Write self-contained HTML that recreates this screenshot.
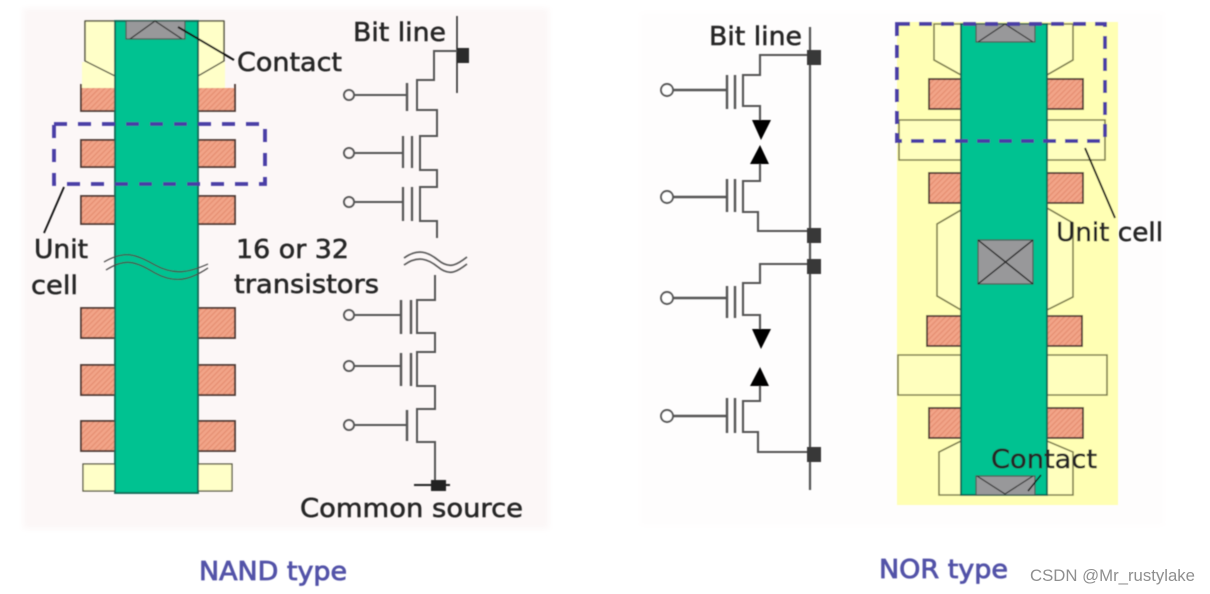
<!DOCTYPE html>
<html><head><meta charset="utf-8">
<style>
html,body{margin:0;padding:0;background:#fff;width:1210px;height:594px;overflow:hidden}
svg{display:block}
text{font-family:"DejaVu Sans","Liberation Sans",sans-serif;fill:#262626;stroke:#262626;stroke-width:.55}
</style></head>
<body>
<svg width="1210" height="594" viewBox="0 0 1210 594" xmlns="http://www.w3.org/2000/svg">
<defs>
<pattern id="h" width="4" height="4" patternUnits="userSpaceOnUse" patternTransform="rotate(-45)">
<rect width="4" height="4" fill="#f2a488"/><rect width="4" height="1.3" fill="#e58f72"/>
</pattern>
<filter id="b" x="-5%" y="-5%" width="110%" height="110%"><feGaussianBlur stdDeviation="0.6"/></filter>
<filter id="p" x="-5%" y="-5%" width="110%" height="110%"><feGaussianBlur stdDeviation="3"/></filter>
</defs>
<rect width="1210" height="594" fill="#fff"/>
<rect x="23" y="8" width="526" height="521" fill="#fcf7f7" filter="url(#p)"/>
<rect x="640" y="12" width="524" height="514" fill="#fefdfd" filter="url(#p)"/>
<g filter="url(#b)">
<!-- NAND layout -->
<g stroke="#55553f" stroke-width="1.3" fill="#ffffc8">
<path d="M85 21H115V76L85 61Z"/>
<path d="M224 21H198V76L224 61Z"/>
<rect x="83" y="464" width="34" height="27"/>
<rect x="196" y="464" width="36" height="27"/>
</g>
<rect x="82" y="62" width="33" height="26" fill="#ffffc8"/>
<rect x="198" y="62" width="27" height="26" fill="#ffffc8"/>
<path d="M85 21V61L115 76M224 21V61L198 76M85 21H224" fill="none" stroke="#55553f" stroke-width="1.3"/>
<g stroke="#4b3833" stroke-width="1.8" fill="url(#h)">
<path d="M81 88H115V111H81Z" stroke="none"/><path d="M198 88H235V111H198Z" stroke="none"/>
<path d="M81 84V111H115M235 84V111H198" fill="none"/>
<rect x="81" y="140" width="36" height="27"/><rect x="198" y="140" width="37" height="27"/>
<rect x="81" y="196" width="36" height="28"/><rect x="198" y="196" width="37" height="28"/>
<rect x="81" y="308" width="36" height="30"/><rect x="198" y="308" width="37" height="30"/>
<rect x="81" y="365" width="36" height="30"/><rect x="198" y="365" width="37" height="30"/>
<rect x="81" y="421" width="36" height="30"/><rect x="198" y="421" width="37" height="30"/>
</g>
<rect x="115" y="21" width="83" height="472" fill="#00c291" stroke="#0f6655" stroke-width="1.8"/>
<rect x="126" y="21" width="59" height="18" fill="#98989a" stroke="#3d5a52" stroke-width="1.2"/>
<path d="M130 39L155 21L182 39" fill="none" stroke="#333" stroke-width="1.3"/>
<path d="M178 27L234 60" fill="none" stroke="#111" stroke-width="2"/>
<rect x="54" y="124" width="211" height="60" fill="none" stroke="#483da6" stroke-width="3.8" stroke-dasharray="13 11"/>
<path d="M64 187L44 233" fill="none" stroke="#111" stroke-width="1.8"/>
<path d="M104 262C125 250 135 254 155 265C175 276 190 272 208 264M106 270C125 258 135 261 155 273C175 284 190 280 208 268" fill="none" stroke="#444" stroke-width="1.2"/>

<!-- NAND circuit -->
<g fill="none" stroke="#555" stroke-width="2">
<path d="M457 16V93" stroke="#222" stroke-width="1.5"/>
<path d="M457 51H434V80H417V110H437V136H420V170H437V187H420V221H437V238"/>
<path d="M407 83V111" stroke-width="2.4"/>
<path d="M403 136V168M412 136V168M403 187V221M412 187V221" stroke-width="2.2"/>
<path d="M354 95H407M354 153H403M354 202H403M354 315H401M354 366H401M354 425H407"/>
<path d="M435 275V300H417V333H435V352H417V386H435V409H417V442H435V484"/>
<path d="M401 300V334M411 300V334M401 353V386M411 353V386M407 410V441" stroke-width="2.4"/>
<path d="M414 485H450" stroke="#222"/>
<path d="M404 258C418 248 428 252 438 260C450 270 458 264 467 257M404 265C418 255 428 259 438 267C450 277 458 271 467 264" stroke-width="1.6"/>
<circle cx="349" cy="95" r="5" fill="#fcf7f7"/><circle cx="349" cy="153" r="5" fill="#fcf7f7"/>
<circle cx="349" cy="202" r="5" fill="#fcf7f7"/><circle cx="349" cy="315" r="5" fill="#fcf7f7"/>
<circle cx="349" cy="366" r="5" fill="#fcf7f7"/><circle cx="349" cy="425" r="5" fill="#fcf7f7"/>
</g>
<rect x="457" y="48" width="12" height="15" fill="#2a2a2a"/>
<rect x="431" y="480" width="15" height="11" fill="#222"/>

<!-- NOR layout -->
<rect x="897" y="22" width="221" height="483" fill="#ffffb4"/>
<g fill="#ffffbe" stroke="#7d7d4c" stroke-width="1.6">
<path d="M934 24V60L961 75V24ZM1073 24V60L1047 75V24Z"/>
<path d="M899 120H961V160H899ZM1047 120H1105V160H1047Z"/>
<path d="M961 210L937 224V296L961 310ZM1047 208L1073 223V297L1047 310Z"/>
<path d="M898 355H961V395H898ZM1047 355H1107V395H1047Z"/>
<path d="M961 441L939 452V495H1073V452L1047 441Z"/>
</g>
<g stroke="#4b3833" stroke-width="1.8" fill="url(#h)">
<rect x="929" y="79" width="32" height="30"/><rect x="1047" y="79" width="36" height="30"/>
<rect x="929" y="173" width="32" height="30"/><rect x="1047" y="173" width="36" height="30"/>
<rect x="927" y="316" width="34" height="30"/><rect x="1047" y="316" width="35" height="30"/>
<rect x="929" y="408" width="32" height="30"/><rect x="1047" y="408" width="36" height="30"/>
</g>
<rect x="961" y="24" width="86" height="471" fill="#00c291" stroke="#0f6655" stroke-width="1.8"/>
<rect x="976" y="24" width="59" height="18" fill="#98989a" stroke="#3d5a52" stroke-width="1.2"/>
<path d="M978 42L1005 24L1033 42" fill="none" stroke="#333" stroke-width="1.2"/>
<rect x="978" y="240" width="55" height="44" fill="#98989a" stroke="#3d5a52" stroke-width="1.2"/>
<path d="M978 240L1033 284M1033 240L978 284" fill="none" stroke="#222" stroke-width="1.4"/>
<rect x="976" y="476" width="59" height="19" fill="#98989a" stroke="#3d5a52" stroke-width="1.2"/>
<path d="M977 476L1005 494L1033 476" fill="none" stroke="#333" stroke-width="1.2"/>
<path d="M1028 491L1041 475" fill="none" stroke="#111" stroke-width="1.5"/>
<rect x="897" y="24" width="208" height="117" fill="none" stroke="#483da6" stroke-width="3.8" stroke-dasharray="13 9"/>
<path d="M1085 148L1115 218" fill="none" stroke="#111" stroke-width="1.9"/>

<!-- NOR circuit -->
<g fill="none" stroke="#555" stroke-width="2.1">
<path d="M810 27V490" stroke-width="2.2"/>
<path d="M814 55H760V75H743V106H760V124"/>
<path d="M760 160V181H743V212H758V231H814"/>
<path d="M814 264H760V283H743V315H760V332"/>
<path d="M760 380V401H743V432H758V452H814"/>
<path d="M727 75V109M735 75V109M727 179V212M735 179V212M727 286V318M735 286V318M727 398V433M735 398V433" stroke-width="2.4"/>
<path d="M673 90H727M673 197H727M673 298H727M673 416H727" stroke-width="2.4"/>
<circle cx="667" cy="90" r="6" fill="#fff" stroke-width="1.9"/><circle cx="667" cy="197" r="6" fill="#fff" stroke-width="1.9"/>
<circle cx="667" cy="298" r="6" fill="#fff" stroke-width="1.9"/><circle cx="667" cy="416" r="6" fill="#fff" stroke-width="1.9"/>
</g>
<g fill="#000">
<path d="M752 120H771L761 140Z"/><path d="M750 164H769L760 145Z"/>
<path d="M752 329H771L761 349Z"/><path d="M750 386H769L760 367Z"/>
</g>
<g fill="#383838">
<rect x="807" y="50" width="14" height="15"/><rect x="807" y="228" width="14" height="15"/>
<rect x="807" y="259" width="14" height="15"/><rect x="807" y="447" width="14" height="15"/>
</g>

<!-- Labels -->
<text x="353" y="41" font-size="26" textLength="93" lengthAdjust="spacingAndGlyphs">Bit line</text>
<text x="237" y="71" font-size="26" textLength="105" lengthAdjust="spacingAndGlyphs">Contact</text>
<text x="34" y="258" font-size="26" textLength="54" lengthAdjust="spacingAndGlyphs">Unit</text>
<text x="31" y="294" font-size="26" textLength="47" lengthAdjust="spacingAndGlyphs">cell</text>
<text x="236" y="258" font-size="26" textLength="113" lengthAdjust="spacingAndGlyphs">16 or 32</text>
<text x="234" y="293" font-size="26" textLength="145" lengthAdjust="spacingAndGlyphs">transistors</text>
<text x="300" y="517" font-size="26" textLength="223" lengthAdjust="spacingAndGlyphs">Common source</text>
<text x="709" y="45" font-size="26" textLength="93" lengthAdjust="spacingAndGlyphs">Bit line</text>
<text x="1056" y="241" font-size="26" textLength="107" lengthAdjust="spacingAndGlyphs">Unit cell</text>
<text x="991" y="468" font-size="26" textLength="106" lengthAdjust="spacingAndGlyphs">Contact</text>
<text x="199" y="580" font-size="26" textLength="148" lengthAdjust="spacingAndGlyphs" style="fill:#5252a8;stroke:#5252a8;stroke-width:.8">NAND type</text>
<text x="879" y="578" font-size="26" textLength="129" lengthAdjust="spacingAndGlyphs" style="fill:#5252a8;stroke:#5252a8;stroke-width:.8">NOR type</text>
</g>
<text x="1030" y="581" font-size="17" textLength="165" lengthAdjust="spacingAndGlyphs" style="font-family:'Liberation Sans',sans-serif;fill:#8f8f8f;stroke:none">CSDN @Mr_rustylake</text>
</svg>
</body></html>
